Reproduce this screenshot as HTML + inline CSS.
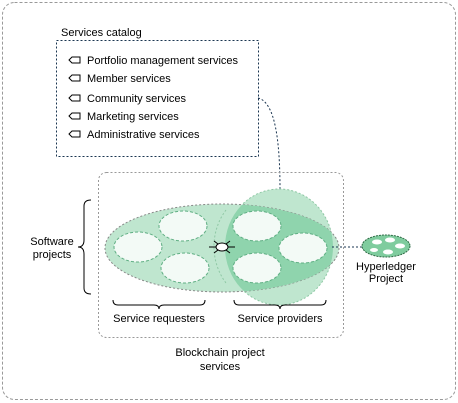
<!DOCTYPE html>
<html><head><style>body{margin:0;background:#fff}svg{display:block}text{font-family:"Liberation Sans",sans-serif;font-size:11px;fill:#000}</style></head><body>
<svg width="458" height="403" viewBox="0 0 458 403">
<defs><clipPath id="c"><ellipse cx="279" cy="247" rx="54" ry="58"/></clipPath></defs>
<rect x="2.5" y="2.5" width="453" height="397" rx="12" fill="none" stroke="#999" stroke-dasharray="3,2"/>
<rect x="56.5" y="40.5" width="202" height="116" fill="none" stroke="#1a3550" stroke-dasharray="2,2"/>
<text x="61" y="36">Services catalog</text>
<g stroke="#000" fill="none">
<path d="M72 57h8v6h-8l-3-3z"/><path d="M72 75h8v6h-8l-3-3z"/><path d="M72 95h8v6h-8l-3-3z"/><path d="M72 113h8v6h-8l-3-3z"/><path d="M72 131h8v6h-8l-3-3z"/>
</g>
<text x="87" y="64">Portfolio management services</text>
<text x="87" y="82">Member services</text>
<text x="87" y="102">Community services</text>
<text x="87" y="120">Marketing services</text>
<text x="87" y="138">Administrative services</text>
<path d="M258 98 C275 102 280 140 280 190" fill="none" stroke="#1a3550" stroke-dasharray="2,2"/>
<rect x="98.5" y="172.5" width="245" height="165" rx="8" fill="none" stroke="#999" stroke-dasharray="2,2"/>
<ellipse cx="279" cy="247" rx="54" ry="58" fill="#bfe6cf" stroke="#8fc8a5" stroke-dasharray="2,2"/>
<ellipse cx="222" cy="248" rx="117" ry="44" fill="#bfe6cf" stroke="#888" stroke-dasharray="2,2"/>
<ellipse cx="222" cy="248" rx="117" ry="44" fill="#8fd4ad" clip-path="url(#c)"/>
<path d="M226 210 A54 58 0 0 0 226 283" fill="none" stroke="#8fc8a5" stroke-dasharray="2,2"/>
<g fill="#f3faf6" stroke="#5fae83" stroke-dasharray="3,2">
<ellipse cx="138" cy="247" rx="24" ry="15"/><ellipse cx="183" cy="226" rx="24" ry="15"/><ellipse cx="185" cy="268" rx="24" ry="15"/>
<ellipse cx="257" cy="226" rx="24" ry="15"/><ellipse cx="303" cy="248" rx="24" ry="15"/><ellipse cx="257" cy="268" rx="24" ry="15"/>
</g>
<g stroke="#000"><line x1="209" y1="247" x2="235" y2="247"/><line x1="214" y1="241" x2="230" y2="253"/><line x1="214" y1="253" x2="230" y2="241"/></g>
<ellipse cx="222" cy="247" rx="6" ry="4" fill="#fff" stroke="#000"/>
<path d="M332 247H362" stroke="#1a3550" stroke-dasharray="2,2"/>
<ellipse cx="386" cy="246" rx="24" ry="11" fill="#7fcc9e" stroke="#2e6b45" stroke-dasharray="2,1"/>
<g fill="#fff"><ellipse cx="377" cy="242" rx="5" ry="2.5"/><ellipse cx="390" cy="240" rx="5" ry="2.5"/><ellipse cx="400" cy="246" rx="5" ry="2.5"/><ellipse cx="388" cy="252" rx="5" ry="2.5"/><ellipse cx="374" cy="250" rx="4" ry="2"/></g>
<text x="386" y="270" text-anchor="middle">Hyperledger</text>
<text x="386" y="282" text-anchor="middle">Project</text>
<g fill="none" stroke="#000">
<path d="M91 200 Q84 200 84 206 V240 Q84 247 78 247 Q84 247 84 254 V288 Q84 294 91 294"/>
<path d="M113 300 Q113 305 118 305 H154 Q159 305 159 309 Q159 305 164 305 H200 Q205 305 205 300"/>
<path d="M234 300 Q234 305 239 305 H275 Q280 305 280 309 Q280 305 285 305 H321 Q326 305 326 300"/>
</g>
<text x="52" y="245" text-anchor="middle">Software</text>
<text x="52" y="258" text-anchor="middle">projects</text>
<text x="159" y="322" text-anchor="middle">Service requesters</text>
<text x="280" y="322" text-anchor="middle">Service providers</text>
<text x="220" y="356" text-anchor="middle">Blockchain project</text>
<text x="220" y="370" text-anchor="middle">services</text>
</svg>
</body></html>
